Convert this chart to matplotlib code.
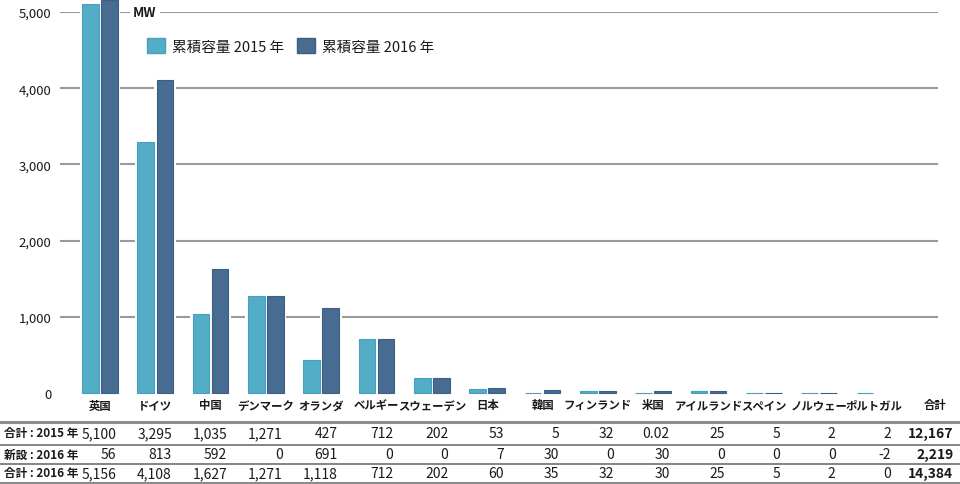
import matplotlib
matplotlib.use("Agg")
import matplotlib.pyplot as plt
from matplotlib.lines import Line2D
from matplotlib.patches import Patch
from matplotlib.transforms import blended_transform_factory

plt.rcParams['font.family'] = ['Noto Sans CJK JP', 'DejaVu Sans']

# ---- data ----
countries = ['英国', 'ドイツ', '中国', 'デンマーク', 'オランダ', 'ベルギー', 'スウェーデン',
             '日本', '韓国', 'フィンランド', '米国', 'アイルランド', 'スペイン', 'ノルウェー', 'ポルトガル']
cap2015 = [5100, 3295, 1035, 1271, 427, 712, 202, 53, 5, 32, 0.02, 25, 5, 2, 2]
new2016 = [56, 813, 592, 0, 691, 0, 0, 7, 30, 0, 30, 0, 0, 0, -2]
cap2016 = [5156, 4108, 1627, 1271, 1118, 712, 202, 60, 35, 32, 30, 25, 5, 2, 0]
total_label = '合計'
totals = [12167, 2219, 14384]
row_labels = ['合計 : 2015 年', '新設 : 2016 年', '合計 : 2016 年']
series_labels = ['累積容量 2015 年', '累積容量 2016 年']
yticks = [0, 1000, 2000, 3000, 4000, 5000]
unit = 'MW'

c_light = '#54adc7'
c_dark = '#476b91'
e_light = '#4a9fba'
e_dark = '#3d5f84'
txt = '#1a1a1a'

W, H = 960, 485
fig = plt.figure(figsize=(W / 100, H / 100), dpi=100)
ax = fig.add_axes([60 / W, 1 - 394 / H, 878 / W, 381 / H])

x = list(range(len(countries)))
off = 0.172
bw = 0.30


def widths(vals, lw):
    return [lw if v > 0 else 0 for v in vals]


ax.bar([i - off for i in x], cap2015, width=bw + 0.06, color='white', edgecolor='white',
       linewidth=widths(cap2015, 1.5), zorder=2, clip_on=False)
ax.bar([i + off for i in x], cap2016, width=bw + 0.06, color='white', edgecolor='white',
       linewidth=widths(cap2016, 1.5), zorder=2, clip_on=False)
ax.bar([i - off for i in x], cap2015, width=bw, color=c_light, edgecolor=e_light,
       linewidth=widths(cap2015, 0.8), zorder=3, clip_on=False)
ax.bar([i + off for i in x], cap2016, width=bw, color=c_dark, edgecolor=e_dark,
       linewidth=widths(cap2016, 0.8), zorder=3, clip_on=False)

ax.set_xlim(-0.723, 15.15)
ax.set_ylim(0, 5000)
for s in ax.spines.values():
    s.set_visible(False)
ax.set_xticks([])
ax.set_yticks(yticks)
ax.set_yticklabels([f'{v:,}' for v in yticks], fontsize=9.5, color=txt)
ax.tick_params(axis='y', length=0, pad=6)
for v in yticks[1:]:
    ax.axhline(v, color='#9a9a9a', lw=1.5, zorder=1)

ax.text(0.6, 5000, unit, ha='left', va='center', fontsize=9.5, fontweight='bold',
        color=txt, zorder=4,
        bbox=dict(boxstyle='square,pad=0.25', fc='white', ec='none'))

handles = [Patch(facecolor=c_light, edgecolor=e_light), Patch(facecolor=c_dark, edgecolor=e_dark)]
ax.legend(handles, series_labels, loc='upper left', bbox_to_anchor=(134 / W, 1 - 26 / H),
          bbox_transform=fig.transFigure, ncol=2, frameon=False, fontsize=10.5,
          handlelength=1.2, handleheight=1.2, handletextpad=0.5, columnspacing=0.9,
          labelcolor=txt)

bt = blended_transform_factory(ax.transData, fig.transFigure)
lab_y = 1 - 406 / H
for i, c in enumerate(countries):
    ax.text(i, lab_y, c, transform=bt, ha='center', va='center', fontsize=8.2,
            fontweight='bold', color=txt)
tot_x = 15.1
ax.text(tot_x, lab_y, total_label, transform=bt, ha='center', va='center', fontsize=8.2,
        fontweight='bold', color=txt, clip_on=False)


def fmt(v):
    if isinstance(v, float) and not v.is_integer():
        return f'{v:g}'
    return f'{int(v):,}'


rows = [cap2015, new2016, cap2016]
row_y = [1 - 434 / H, 1 - 455 / H, 1 - 474 / H]
for r, (vals, yy) in enumerate(zip(rows, row_y)):
    fig.text(4 / W, yy, row_labels[r], ha='left', va='center', fontsize=8.4,
             fontweight='bold', color=txt)
    for i, v in enumerate(vals):
        ax.text(i + 0.3, yy, fmt(v), transform=bt, ha='right', va='center',
                fontsize=10, color=txt, clip_on=False)
    ax.text(tot_x + 0.33, yy, fmt(totals[r]), transform=bt, ha='right', va='center',
            fontsize=10, fontweight='bold', color=txt, clip_on=False)

for yy, lw, col in [(423, 2.2, '#8c8c8c'), (446, 1.2, '#707070'),
                    (465, 1.2, '#707070'), (483.5, 2.2, '#8c8c8c')]:
    fig.add_artist(Line2D([0, 1], [1 - yy / H, 1 - yy / H], transform=fig.transFigure,
                          color=col, lw=lw))

fig.savefig('out.png', dpi=100)
